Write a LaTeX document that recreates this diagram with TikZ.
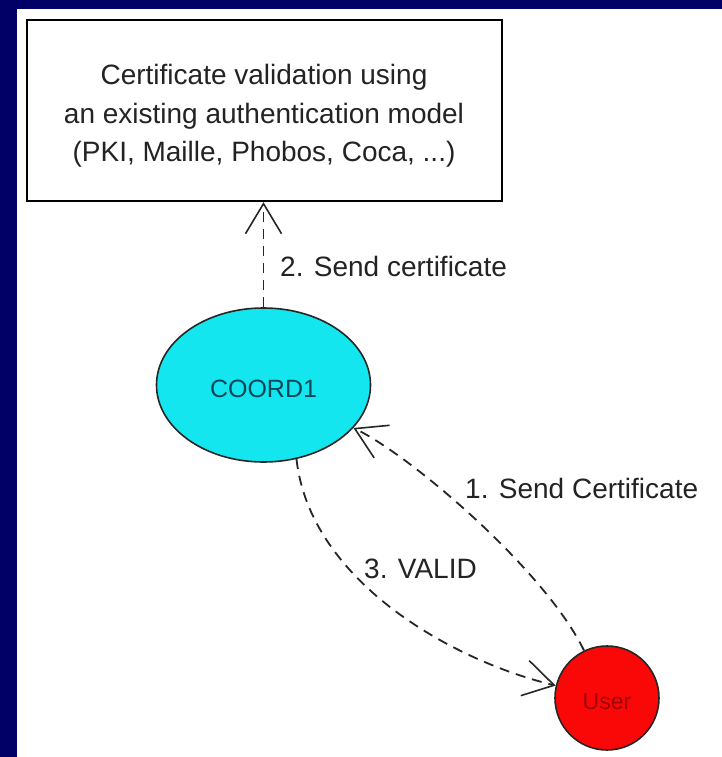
\documentclass[tikz,border=0pt]{standalone}
\usepackage{fontspec}
\setmainfont{Liberation Sans}
\usetikzlibrary{shapes.geometric,arrows.meta}
\definecolor{navybg}{RGB}{0,0,102}
\definecolor{cyanfill}{RGB}{20,230,240}
\definecolor{redfill}{RGB}{250,8,8}
\definecolor{coordtext}{RGB}{10,70,90}
\definecolor{usertext}{RGB}{160,0,0}
\definecolor{boxtext}{RGB}{35,35,35}
\tikzset{
  msg/.style={line width=1.8pt, draw=black!85, dash pattern=on 10pt off 7pt, -{Straight Barb[length=30pt,width=36pt,line width=1.6pt]}},
  lbl/.style={inner sep=0pt, anchor=base west, text=boxtext, font=\fontsize{28}{34}\selectfont},
}
\begin{document}
\begin{tikzpicture}[x=1pt,y=-1pt]
\fill[navybg] (0,0) rectangle (722,757);
\fill[white] (17,9) rectangle (722,757);
\useasboundingbox (0,0) rectangle (722,757);

\node[draw=black, line width=2.2pt, fill=white, minimum width=475pt, minimum height=181pt, inner sep=0pt] (box) at (264.5,110.5) {};
\node[align=center, inner sep=0pt, text=boxtext, font=\fontsize{28}{38.5}\selectfont] (boxtxt) at (264,116)
  {Certificate validation using\\an existing authentication model\\(PKI, Maille, Phobos, Coca, ...)};

\node[ellipse, draw=black!85, line width=1.6pt, fill=cyanfill, minimum width=214pt, minimum height=154pt, inner sep=0pt,
      text=coordtext, font=\fontsize{25}{30}\selectfont, text height=26pt] (coord) at (263.5,385) {COORD1};

\node[circle, draw=black!85, line width=1.6pt, fill=redfill, minimum size=104pt, inner sep=0pt,
      text=usertext, font=\fontsize{23}{28}\selectfont, text height=24pt] (user) at (607,698) {User};

\draw[msg] (coord.north) -- (coord.north |- box.south);
\draw[msg] (user) .. controls (545,570) and (410,455) .. (coord);
\draw[msg] (coord.-66) .. controls (310,580) and (450,660) .. (user);

\node[lbl] (l2) at (280,276) {2. Send certificate};
\node[lbl] (l1) at (465,498) {1. Send Certificate};
\node[lbl] (l3) at (364,578) {3. VALID};
\end{tikzpicture}
\end{document}
